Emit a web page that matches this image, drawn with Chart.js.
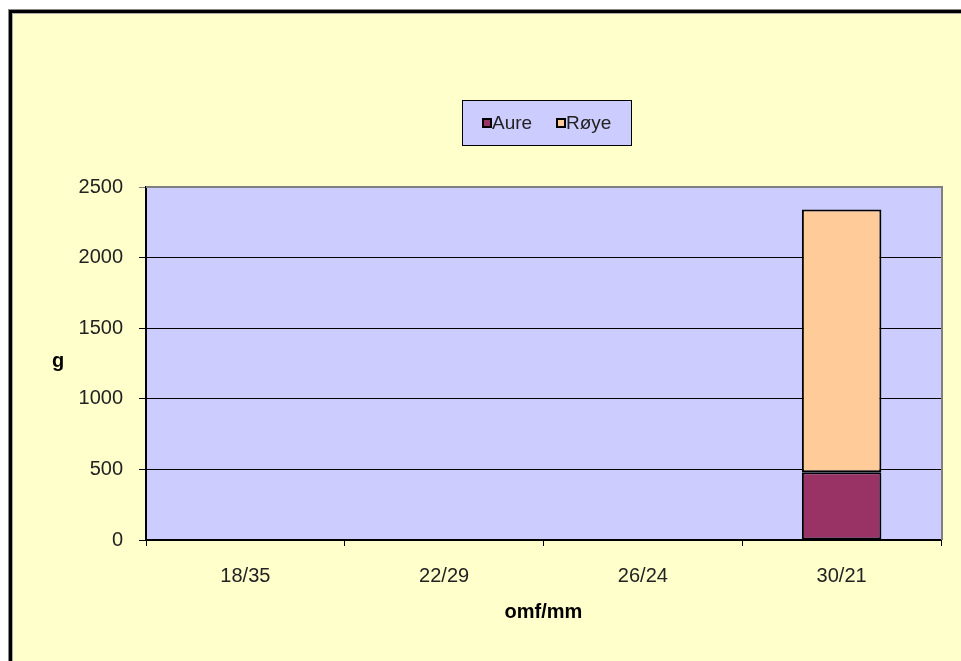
<!DOCTYPE html>
<html>
<head>
<meta charset="utf-8">
<script src="https://cdn.jsdelivr.net/npm/chart.js@4"></script>
<style>
  html, body { margin: 0; padding: 0; background: #fff; overflow: hidden; }
  canvas { display: block; }
</style>
</head>
<body>
<canvas id="chart" width="961" height="661"></canvas>
<script>
const categories = ['18/35', '22/29', '26/24', '30/21'];
const aure = [0, 0, 0, 480];
const roye = [0, 0, 0, 1860];
const yTicks = [0, 500, 1000, 1500, 2000, 2500];
const seriesNames = ['Aure', 'Røye'];
const xTitle = 'omf/mm';
const yTitle = 'g';

const FONT = "'Liberation Sans', Arial, sans-serif";
Chart.defaults.font.family = FONT;
Chart.defaults.font.size = 20;
Chart.defaults.color = '#222';

// frame, yellow background and lavender plot area
const backdrop = {
    id: 'backdrop',
    beforeDraw(chart) {
        const { ctx, chartArea: a } = chart;
        ctx.save();
        ctx.fillStyle = '#fff';
        ctx.fillRect(0, 0, chart.width, chart.height);
        ctx.fillStyle = '#888';
        ctx.fillRect(8, 9, chart.width, chart.height);
        ctx.fillStyle = '#000';
        ctx.fillRect(9, 10, chart.width, chart.height);
        ctx.fillStyle = '#aaa';
        ctx.fillRect(12, 13, chart.width, chart.height);
        ctx.fillStyle = '#ffffcc';
        ctx.fillRect(13, 14, chart.width, chart.height);
        ctx.fillStyle = '#ccccff';
        ctx.fillRect(a.left, a.top, a.right - a.left, a.bottom - a.top);
        ctx.restore();
    },
    beforeDatasetsDraw(chart) {
        const { ctx, chartArea: a } = chart;
        ctx.save();
        ctx.strokeStyle = '#808080';
        ctx.lineWidth = 2;
        ctx.beginPath();
        ctx.moveTo(a.left, a.top);
        ctx.lineTo(a.right + 1, a.top);
        ctx.lineTo(a.right + 1, a.bottom);
        ctx.stroke();
        ctx.restore();
    },
    afterDraw(chart) {
        const { ctx, chartArea: a } = chart;
        ctx.save();
        // axis titles
        ctx.fillStyle = '#000';
        ctx.font = 'bold 20px ' + FONT;
        ctx.textAlign = 'center';
        ctx.textBaseline = 'middle';
        ctx.fillText(yTitle, 58, 361);
        ctx.fillText(xTitle, (a.left + a.right) / 2, 612);

        // legend box
        ctx.fillStyle = '#ccccff';
        ctx.fillRect(462, 100, 170, 46);
        ctx.strokeStyle = '#000';
        ctx.lineWidth = 1;
        ctx.strokeRect(462.5, 100.5, 169, 45);
        ctx.font = '19px ' + FONT;
        ctx.textAlign = 'left';
        const xs = [482, 556];
        chart.data.datasets.forEach((ds, i) => {
            ctx.fillStyle = ds.backgroundColor;
            ctx.fillRect(xs[i], 118, 10, 10);
            ctx.strokeStyle = '#000';
            ctx.lineWidth = 2;
            ctx.strokeRect(xs[i] + 1, 119, 8, 8);
            ctx.fillStyle = '#222';
            ctx.fillText(ds.label, xs[i] + 10, 124);
        });
        ctx.restore();
    }
};

new Chart(document.getElementById('chart'), {
    type: 'bar',
    data: {
        labels: categories,
        datasets: [
            {
                label: seriesNames[0],
                data: aure,
                backgroundColor: '#993366',
                borderColor: '#000',
                borderWidth: 2,
                borderSkipped: false
            },
            {
                label: seriesNames[1],
                data: roye,
                backgroundColor: '#ffcc99',
                borderColor: '#000',
                borderWidth: 2,
                borderSkipped: false
            }
        ]
    },
    options: {
        responsive: false,
        animation: false,
        layout: { padding: { left: 46, top: 187, right: 20, bottom: 0 } },
        datasets: { bar: { categoryPercentage: 1, barPercentage: 0.4 } },
        plugins: {
            legend: { display: false },
            tooltip: { enabled: false }
        },
        scales: {
            x: {
                stacked: true,
                afterFit(scale) { scale.height = 121; },
                grid: { drawOnChartArea: false, drawTicks: true, tickLength: 6, color: '#000', offset: true },
                border: { color: '#000', width: 2 },
                ticks: { padding: 18 }
            },
            y: {
                stacked: true,
                min: 0,
                max: 2500,
                afterFit(scale) { scale.width = 100; },
                afterBuildTicks(scale) { scale.ticks = yTicks.map(v => ({ value: v })); },
                grid: {
                    color: ctx => ctx.tick && ctx.tick.value === 2500 ? '#808080' : '#000',
                    lineWidth: 1,
                    tickLength: 7
                },
                border: { color: '#000', width: 2 },
                ticks: { padding: 16, callback: v => String(v) }
            }
        }
    },
    plugins: [backdrop]
});
</script>
</body>
</html>
